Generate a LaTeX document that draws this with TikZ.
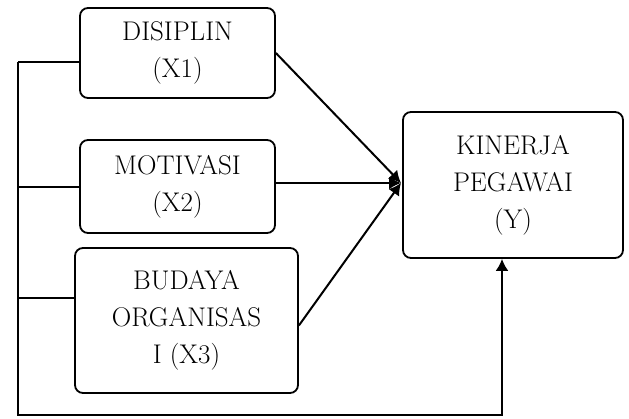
\documentclass[tikz,border=0pt]{standalone}
\usetikzlibrary{arrows.meta}
\begin{document}
\begin{tikzpicture}[x=1pt,y=-1pt,
  box/.style={draw,line width=1.8pt,rounded corners=8pt,align=center,inner sep=0pt,
    font=\fontsize{27}{37}\selectfont},
  conn/.style={line width=2pt},
  tip/.style={line width=2pt,-{Latex[length=12pt,width=13pt]}}]
\useasboundingbox (0,0) rectangle (629,419);
\node[box,minimum width=195pt,minimum height=90pt] (x1) at (177.5,53) {DISIPLIN\\(X1)};
\node[box,minimum width=195pt,minimum height=93pt] (x2) at (177.5,186.5) {MOTIVASI\\(X2)};
\node[box,minimum width=223pt,minimum height=145pt] (x3) at (186.5,320.5) {BUDAYA\\ORGANISAS\\I (X3)};
\node[box,minimum width=220pt,minimum height=146pt] (y) at (513,185) {KINERJA\\PEGAWAI\\(Y)};
\coordinate (t) at (401,183);
\coordinate (l1) at (18,62);
\coordinate (l2) at (18,187);
\coordinate (l3) at (18,298);
\coordinate (lb) at (18,415);
\coordinate (rb) at (502,415);
\draw[conn] (l1) -- (x1.west |- l1);
\draw[conn] (l2) -- (x2.west |- l2);
\draw[conn] (l3) -- (x3.west |- l3);
\draw[tip] (l1) -- (lb) -- (rb) -- (rb |- y.south);
\draw[tip] (x1.east) -- (t);
\draw[tip] (x2.east |- t) -- (t);
\draw[tip] ([yshift=-5pt]x3.east) -- (t);
\end{tikzpicture}
\end{document}
